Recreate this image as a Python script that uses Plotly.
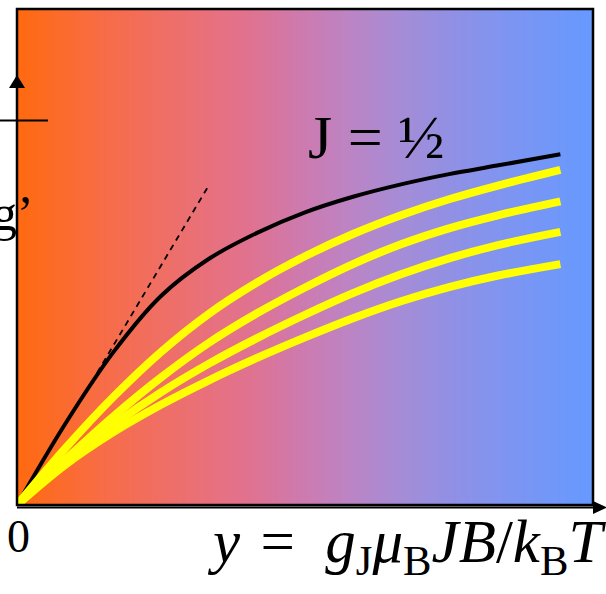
import base64
import struct
import zlib

import plotly.graph_objects as go

# ---------------- data ----------------
x_grid = [0, 0.25, 0.5, 0.75, 1.0, 1.25, 1.5, 1.75, 2.0, 2.25, 2.5, 2.83]

black_half = [0, 0.228, 0.430, 0.590, 0.695, 0.768, 0.826, 0.870, 0.905, 0.934, 0.958, 0.990]

yellow_1 = [0, 0.159, 0.304, 0.432, 0.540, 0.628, 0.702, 0.765, 0.818, 0.863, 0.901, 0.946]
yellow_2 = [0, 0.127, 0.249, 0.360, 0.458, 0.541, 0.614, 0.680, 0.736, 0.781, 0.817, 0.857]
yellow_3 = [0, 0.122, 0.226, 0.318, 0.399, 0.471, 0.537, 0.598, 0.651, 0.696, 0.733, 0.771]
yellow_4 = [0, 0.113, 0.205, 0.283, 0.352, 0.415, 0.473, 0.527, 0.575, 0.615, 0.647, 0.680]
yellow_series = [yellow_1, yellow_2, yellow_3, yellow_4]

tangent_x = [0.417, 1.0]
tangent_y = [0.373, 0.903]

curve_label = "J = ½"
origin_label = "0"
x_axis_label = ("<i>y</i>\u2004=\u2002<i>g</i><sub>J</sub><i>μ</i><sub>B</sub>"
                "<i>JB</i>/<i>k</i><sub>B</sub><i>T</i>")
side_label = "g’"

# ---------------- background gradient (style only) ----------------
grad_stops = [
    (0.000, (255, 106, 15)),
    (0.144, (248, 108, 69)),
    (0.318, (234, 112, 120)),
    (0.405, (224, 114, 144)),
    (0.491, (206, 122, 174)),
    (0.578, (188, 132, 196)),
    (0.665, (166, 140, 214)),
    (0.752, (145, 144, 228)),
    (0.839, (128, 148, 240)),
    (0.925, (114, 151, 248)),
    (1.000, (102, 153, 255)),
]


def grad_color(t):
    for (t0, c0), (t1, c1) in zip(grad_stops[:-1], grad_stops[1:]):
        if t <= t1:
            f = (t - t0) / (t1 - t0) if t1 > t0 else 0
            return tuple(int(round(a + (b - a) * f)) for a, b in zip(c0, c1))
    return grad_stops[-1][1]


def make_png(width):
    row = [grad_color(i / (width - 1)) for i in range(width)]
    raw = b"\x00" + bytes(c for px in row for c in px)

    def chunk(tag, data):
        return (struct.pack(">I", len(data)) + tag + data
                + struct.pack(">I", zlib.crc32(tag + data) & 0xFFFFFFFF))

    return (b"\x89PNG\r\n\x1a\n"
            + chunk(b"IHDR", struct.pack(">IIBBBBB", width, 1, 8, 2, 0, 0, 0))
            + chunk(b"IDAT", zlib.compress(raw))
            + chunk(b"IEND", b""))


png_uri = "data:image/png;base64," + base64.b64encode(make_png(576)).decode()

# ---------------- figure ----------------
fig = go.Figure()

fig.add_trace(go.Scatter(
    x=tangent_x, y=tangent_y, mode="lines",
    line=dict(color="black", width=1.8, dash="6px,5px"),
    hoverinfo="skip", showlegend=False))

fig.add_trace(go.Scatter(
    x=x_grid, y=black_half, mode="lines",
    line=dict(color="black", width=4, shape="spline", smoothing=1),
    hoverinfo="skip", showlegend=False))

for ys in yellow_series:
    fig.add_trace(go.Scatter(
        x=x_grid, y=ys, mode="lines",
        line=dict(color="#FFFF00", width=8, shape="spline", smoothing=1),
        hoverinfo="skip", showlegend=False))

W, H = 606, 594
L, R, T, B = 17, 13, 9, 89
pw, ph = W - L - R, H - T - B


def px(xp):
    return (xp - L) / pw


def py(yp):
    return (H - B - yp) / ph


serif = "Liberation Serif, Times New Roman, serif"

shapes = [
    # plot frame
    dict(type="rect", xref="paper", yref="paper", x0=0, x1=1, y0=0, y1=1,
         line=dict(color="black", width=2.5), layer="above"),
    # x axis line below the frame
    dict(type="line", xref="paper", yref="paper", x0=px(17), x1=px(596),
         y0=py(507.5), y1=py(507.5), line=dict(color="black", width=2)),
    # x axis arrow head
    dict(type="path", xref="paper", yref="paper",
         path=f"M {px(593)} {py(501)} L {px(593)} {py(514)} L {px(607)} {py(507.5)} Z",
         fillcolor="black", line=dict(width=0)),
    # y axis arrow head
    dict(type="path", xref="paper", yref="paper",
         path=f"M {px(9)} {py(88)} L {px(25)} {py(88)} L {px(17)} {py(75)} Z",
         fillcolor="black", line=dict(width=0)),
    # short horizontal tick
    dict(type="line", xref="paper", yref="paper", x0=px(0), x1=px(48),
         y0=py(120.5), y1=py(120.5), line=dict(color="black", width=2)),
]

annotations = [
    dict(text=curve_label, xref="paper", yref="paper", x=px(376), y=py(137),
         xanchor="center", yanchor="middle", showarrow=False,
         font=dict(family=serif, size=62, color="black")),
    dict(text=origin_label, xref="paper", yref="paper", x=px(18), y=py(536),
         xanchor="center", yanchor="middle", showarrow=False,
         font=dict(family=serif, size=46, color="black")),
    dict(text=x_axis_label, xref="paper", yref="paper", x=px(205), y=py(546),
         xanchor="left", yanchor="middle", showarrow=False,
         font=dict(family=serif, size=61, color="black")),
    dict(text=side_label, xref="paper", yref="paper", x=px(36), y=py(213),
         xanchor="right", yanchor="middle", showarrow=False,
         font=dict(family=serif, size=50, color="black")),
]

fig.update_layout(
    width=W, height=H,
    margin=dict(l=L, r=R, t=T, b=B, pad=0),
    paper_bgcolor="white",
    plot_bgcolor="rgba(0,0,0,0)",
    xaxis=dict(range=[0, 3.0], visible=False, fixedrange=True),
    yaxis=dict(range=[0, 1.4], visible=False, fixedrange=True),
    images=[dict(source=png_uri, xref="paper", yref="paper", x=0, y=1,
                 sizex=1, sizey=1, sizing="stretch", xanchor="left",
                 yanchor="top", layer="below")],
    shapes=shapes,
    annotations=annotations,
    showlegend=False,
)

fig.write_html("out.html")
